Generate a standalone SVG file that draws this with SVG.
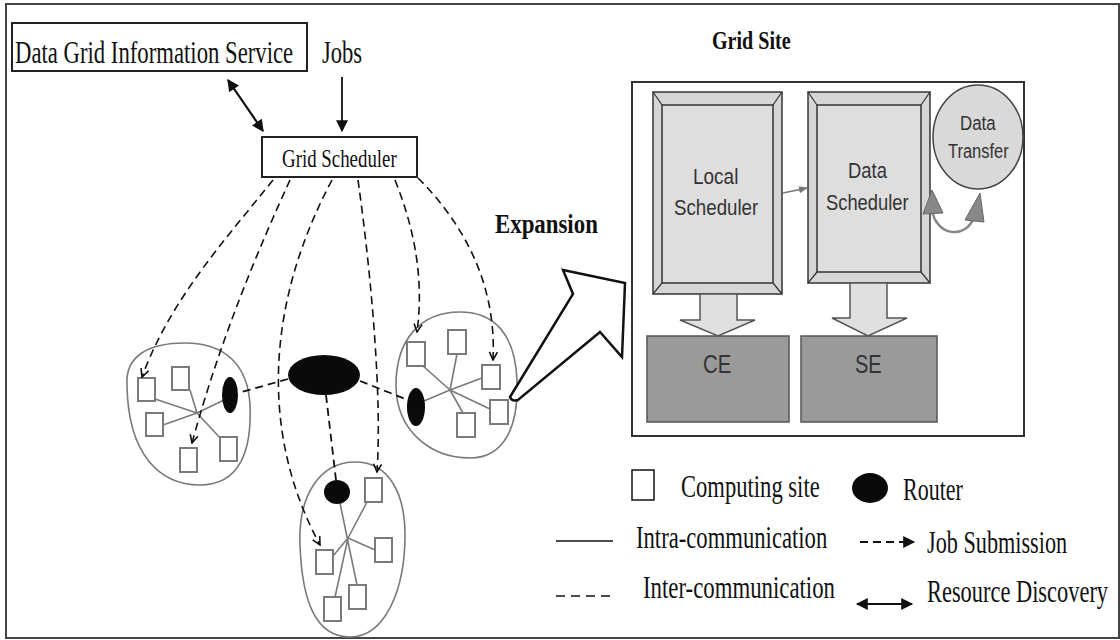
<svg xmlns="http://www.w3.org/2000/svg" width="1120" height="640" viewBox="0 0 1120 640">
<defs>
<style>
  .serif{font-family:"Liberation Serif","Times New Roman",serif;fill:#111}
  .bold{font-weight:bold}
  .sans{font-family:"Liberation Sans",Arial,sans-serif;fill:#333}
  .box{fill:#fff;stroke:#222;stroke-width:2}
  .blob{fill:none;stroke:#7a7a7a;stroke-width:1.6}
  .site{fill:#fff;stroke:#7a7a7a;stroke-width:2}
  .intra{stroke:#7a7a7a;stroke-width:1.6;fill:none}
  .router{fill:#0a0a0a}
  .job{fill:none;stroke:#111;stroke-width:1.6;stroke-dasharray:8 5;marker-end:url(#open)}
  .inter{fill:none;stroke:#111;stroke-width:1.8;stroke-dasharray:8 5}
  .frame{fill:#d6d6d6;stroke:#333;stroke-width:1.5}
  .face{fill:#dedede;stroke:#333;stroke-width:1.5}
  .bevel{stroke:#333;stroke-width:1.2}
  .block{fill:#e0e0e0;stroke:#555;stroke-width:1.5}
  .store{fill:#9a9a9a;stroke:#555;stroke-width:1.5}
</style>
<marker id="open" viewBox="0 0 10 10" refX="9" refY="5" markerWidth="10" markerHeight="10" markerUnits="userSpaceOnUse" orient="auto">
  <path d="M1,1 L9,5 L1,9" fill="none" stroke="#111" stroke-width="1.6"/>
</marker>
<marker id="solid" viewBox="0 0 10 10" refX="9" refY="5" markerWidth="14" markerHeight="12" markerUnits="userSpaceOnUse" orient="auto-start-reverse">
  <path d="M0,0 L10,5 L0,10 Z" fill="#111"/>
</marker>
<marker id="small" viewBox="0 0 10 10" refX="9" refY="5" markerWidth="9" markerHeight="9" markerUnits="userSpaceOnUse" orient="auto">
  <path d="M0,1 L10,5 L0,9 Z" fill="#777"/>
</marker>
</defs>

<rect width="1120" height="640" fill="#fff"/>
<rect x="6" y="4" width="1113" height="634" fill="none" stroke="#444" stroke-width="2"/>

<!-- information service and scheduler (condensed lettering via horizontal scale) -->
<g id="dgis">
  <rect class="box" x="12" y="23" width="295" height="48"/>
  <text class="serif" transform="translate(15,63) scale(0.73,1)" font-size="31" textLength="381" lengthAdjust="spacingAndGlyphs">Data Grid Information Service</text>
</g>
<g id="jobs">
  <text class="serif" transform="translate(322,63) scale(0.73,1)" font-size="31" textLength="55" lengthAdjust="spacingAndGlyphs">Jobs</text>
</g>
<g id="grid-scheduler">
  <rect class="box" x="262" y="137" width="155" height="40"/>
  <text class="serif" transform="translate(282,167) scale(0.76,1)" font-size="25" textLength="151" lengthAdjust="spacingAndGlyphs">Grid Scheduler</text>
</g>

<!-- clusters -->
<g id="cluster-left">
  <path class="blob" d="M127,385 C125,355 150,343 185,343 C225,343 248,365 250,405 C252,450 240,485 200,485 C160,485 128,455 127,385 Z"/>
  <path class="intra" d="M197,413 L155,399 M197,413 L190,390 M197,413 L163,425 M197,413 L222,440 M197,413 L224,400"/>
  <ellipse class="router" cx="230" cy="395" rx="8" ry="18"/>
  <rect class="site" x="138" y="378" width="17" height="23"/>
  <rect class="site" x="172" y="367" width="17" height="23"/>
  <rect class="site" x="146" y="413" width="17" height="23"/>
  <rect class="site" x="180" y="448" width="17" height="24"/>
  <rect class="site" x="220" y="437" width="17" height="24"/>
</g>
<g id="cluster-right">
  <path class="blob" d="M396,385 C396,340 420,312 460,312 C495,312 515,335 517,380 C519,425 505,458 470,458 C430,458 396,430 396,385 Z"/>
  <path class="intra" d="M450,390 L423,366 M450,390 L457,354 M450,390 L482,378 M450,390 L490,409 M450,390 L463,413 M450,390 L424,401"/>
  <ellipse class="router" cx="416" cy="407" rx="9" ry="19"/>
  <rect class="site" x="407" y="342" width="18" height="24"/>
  <rect class="site" x="448" y="330" width="18" height="24"/>
  <rect class="site" x="482" y="365" width="18" height="24"/>
  <rect class="site" x="490" y="400" width="18" height="24"/>
  <rect class="site" x="457" y="413" width="18" height="24"/>
</g>
<g id="cluster-bottom">
  <path class="blob" d="M300,545 C298,495 320,462 355,462 C390,462 405,495 405,535 C405,590 385,637 350,637 C315,637 302,600 300,545 Z"/>
  <path class="intra" d="M340,503 L357,585 M348,538 L367,502 M348,538 L375,550 M348,538 L333,556 M348,538 L335,597"/>
  <ellipse class="router" cx="337" cy="492" rx="13" ry="12"/>
  <rect class="site" x="365" y="478" width="17" height="24"/>
  <rect class="site" x="375" y="538" width="17" height="24"/>
  <rect class="site" x="316" y="550" width="17" height="24"/>
  <rect class="site" x="349" y="585" width="17" height="24"/>
  <rect class="site" x="324" y="597" width="17" height="24"/>
</g>
<g id="core-router">
  <ellipse class="router" cx="324" cy="375" rx="36" ry="20"/>
</g>

<!-- connectors -->
<g id="connectors">
  <line x1="228" y1="80" x2="263" y2="131" stroke="#111" stroke-width="2.2" marker-start="url(#solid)" marker-end="url(#solid)"/>
  <line x1="342" y1="77" x2="342" y2="131" stroke="#111" stroke-width="1.8" marker-end="url(#solid)"/>
  <path class="job" d="M273,180 C225,240 170,300 142,377"/>
  <path class="job" d="M290,180 C258,250 220,340 192,443"/>
  <path class="job" d="M332,180 C268,300 258,430 320,545"/>
  <path class="job" d="M358,180 C372,280 382,400 377,472"/>
  <path class="job" d="M395,180 C415,230 424,280 417,332"/>
  <path class="job" d="M418,178 C460,220 497,280 493,360"/>
  <path class="inter" d="M288,379 L238,393"/>
  <path class="inter" d="M360,381 L408,400"/>
  <path class="inter" d="M326,395 L336,480"/>
</g>

<!-- expansion -->
<g id="expansion">
  <path d="M510,397 L573,294 L563,270 L625,283 L622,357 L600,332 L518,400 Q512,402 510,397 Z" fill="#fff" stroke="#111" stroke-width="2.5" stroke-linejoin="miter"/>
  <text class="serif bold" transform="translate(495,233) scale(0.85,1)" font-size="27" textLength="121" lengthAdjust="spacingAndGlyphs">Expansion</text>
</g>

<!-- grid site detail -->
<g id="grid-site">
  <text class="serif bold" transform="translate(712,49) scale(0.77,1)" font-size="26" textLength="102" lengthAdjust="spacingAndGlyphs">Grid Site</text>
  <rect x="632" y="82" width="392" height="354" fill="#fff" stroke="#333" stroke-width="2"/>
</g>
<g id="local-scheduler">
  <rect class="frame" x="653" y="92" width="129" height="202"/>
  <rect class="face" x="662" y="105" width="111" height="178"/>
  <path class="bevel" d="M653,92 L662,105 M782,92 L773,105 M653,294 L662,283 M782,294 L773,283"/>
  <text class="sans" transform="translate(693,184) scale(0.81,1)" font-size="23" textLength="56" lengthAdjust="spacingAndGlyphs">Local</text>
  <text class="sans" transform="translate(674,215) scale(0.81,1)" font-size="23" textLength="104" lengthAdjust="spacingAndGlyphs">Scheduler</text>
</g>
<g id="data-scheduler">
  <rect class="frame" x="808" y="92" width="122" height="191"/>
  <rect class="face" x="817" y="105" width="104" height="167"/>
  <path class="bevel" d="M808,92 L817,105 M930,92 L921,105 M808,283 L817,272 M930,283 L921,272"/>
  <text class="sans" transform="translate(848,178) scale(0.81,1)" font-size="23" textLength="48" lengthAdjust="spacingAndGlyphs">Data</text>
  <text class="sans" transform="translate(826,210) scale(0.81,1)" font-size="23" textLength="102" lengthAdjust="spacingAndGlyphs">Scheduler</text>
</g>
<g id="data-transfer">
  <ellipse cx="978" cy="137" rx="45" ry="52" fill="#d9d9d9" stroke="#444" stroke-width="1.5"/>
  <text class="sans" transform="translate(960,130) scale(0.81,1)" font-size="20" textLength="44" lengthAdjust="spacingAndGlyphs">Data</text>
  <text class="sans" transform="translate(948,158) scale(0.81,1)" font-size="20" textLength="75" lengthAdjust="spacingAndGlyphs">Transfer</text>
</g>
<g id="ce">
  <rect class="store" x="647" y="336" width="142" height="86"/>
  <text class="sans" transform="translate(703,373) scale(0.81,1)" font-size="26" textLength="35" lengthAdjust="spacingAndGlyphs">CE</text>
</g>
<g id="se">
  <rect class="store" x="801" y="336" width="136" height="86"/>
  <text class="sans" transform="translate(855,373) scale(0.81,1)" font-size="26" textLength="33" lengthAdjust="spacingAndGlyphs">SE</text>
</g>
<g id="site-links">
  <line x1="783" y1="193" x2="807" y2="188" stroke="#777" stroke-width="1.5" marker-end="url(#small)"/>
  <polygon class="block" points="700,294 737,294 737,320 755,320 718,336 680,320 700,320"/>
  <polygon class="block" points="850,283 887,283 887,318 907,318 868,336 832,318 850,318"/>
  <path d="M932,210 C936,236 966,240 974,217" fill="none" stroke="#888" stroke-width="2.5"/>
  <polygon points="932,190 923,214 943,213" fill="#888" stroke="#666" stroke-width="1"/>
  <polygon points="980,193 965,220 984,222" fill="#888" stroke="#666" stroke-width="1"/>
</g>

<!-- legend -->
<g id="legend">
  <rect x="632" y="470" width="22" height="30" fill="#fff" stroke="#111" stroke-width="1.5"/>
  <text class="serif" transform="translate(681,497) scale(0.73,1)" font-size="31" textLength="190" lengthAdjust="spacingAndGlyphs">Computing site</text>
  <ellipse class="router" cx="870" cy="488" rx="18" ry="15"/>
  <text class="serif" transform="translate(903,500) scale(0.73,1)" font-size="31" textLength="82" lengthAdjust="spacingAndGlyphs">Router</text>
  <line x1="556" y1="541" x2="613" y2="541" stroke="#111" stroke-width="1.6"/>
  <text class="serif" transform="translate(636,548) scale(0.73,1)" font-size="31" textLength="262" lengthAdjust="spacingAndGlyphs">Intra-communication</text>
  <line x1="860" y1="542" x2="914" y2="542" stroke="#111" stroke-width="1.8" stroke-dasharray="8 5" marker-end="url(#solid)"/>
  <text class="serif" transform="translate(927,553) scale(0.73,1)" font-size="31" textLength="192" lengthAdjust="spacingAndGlyphs">Job Submission</text>
  <line x1="556" y1="596" x2="612" y2="596" stroke="#111" stroke-width="1.6" stroke-dasharray="9 6"/>
  <text class="serif" transform="translate(643,598) scale(0.73,1)" font-size="31" textLength="263" lengthAdjust="spacingAndGlyphs">Inter-communication</text>
  <line x1="857" y1="604" x2="912" y2="604" stroke="#111" stroke-width="2" marker-start="url(#solid)" marker-end="url(#solid)"/>
  <text class="serif" transform="translate(927,602) scale(0.73,1)" font-size="31" textLength="248" lengthAdjust="spacingAndGlyphs">Resource Discovery</text>
</g>
</svg>
